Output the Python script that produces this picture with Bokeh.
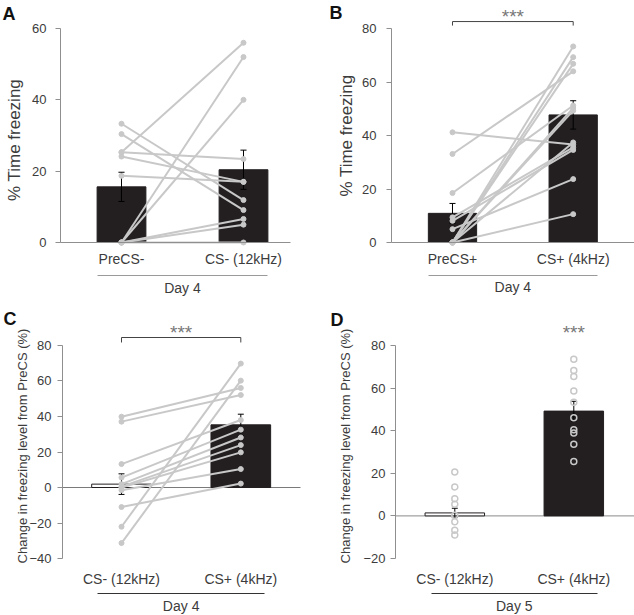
import math
from bokeh.plotting import figure
from bokeh.models import Range1d, LinearAxis, FixedTicker, ColumnDataSource
from bokeh.layouts import row, column
from bokeh.embed import file_html
from bokeh.resources import INLINE
from bokeh.core.properties import value

# ---------------- data ----------------
a_cats = ["PreCS-", "CS- (12kHz)"]
a_pre = [25.3, 25.3, 24.1, 18.7, 33.3, 30.4, 0, 0, 0, 0, 0]
a_post = [56.0, 23.4, 17.0, 17.0, 11.9, 9.1, 52.0, 40.0, 6.6, 5.0, 0]
a_mean = [15.6, 20.4]
a_sem = [4.1, 5.5]

b_cats = ["PreCS+", "CS+ (4kHz)"]
b_pre = [41.2, 33.1, 18.5, 9.4, 8.1, 5.0, 0, 0, 0, 0, 0, 0, 0]
b_post = [36.6, 64.0, 51.2, 35.6, 34.6, 23.7, 10.6, 73.3, 69.3, 66.8, 50.3, 49.3, 37.4]
b_mean = [10.9, 47.7]
b_sem = [3.7, 5.3]

c_cats = ["CS- (12kHz)", "CS+ (4kHz)"]
c_minus = [39.9, 37.1, 13.2, 5.6, 1.9, 0.5, 0.0, -1.5, -11.0, -22.1, -31.3]
c_plus = [56.1, 52.1, 38.0, 32.6, 28.2, 23.9, 19.8, 10.4, 2.2, 69.8, 60.2]
c_mean = [1.9, 35.3]
c_sem = [5.8, 6.0]

d_cats = ["CS- (12kHz)", "CS+ (4kHz)"]
d_minus = [20.6, 13.6, 8.1, 5.5, 0.3, -2.8, -6.7, -9.0]
d_plus = [73.5, 68.3, 65.5, 58.6, 53.4, 46.1, 40.5, 38.9, 33.6, 25.6]
d_mean = [1.4, 49.2]
d_sem = [2.2, 4.6]

# ---------------- style ----------------
FONT = "Liberation Sans"
TXT = "#3c3c3c"
AX = "#8f8f8f"
PT = "#c8c8c8"
BAR = "#231f20"


def panel(width, height, xr, yr, yaxis_x, x_end, ybounds, yticks,
          ylabel, ylabel_size, ylabel_xy, ytick_standoff, cat_standoff,
          cats, day, day_y, under_y, under_color, base_on, letter, letter_xy):
    p = figure(width=width, height=height, x_range=Range1d(*xr), y_range=Range1d(*yr),
               output_backend="svg", toolbar_location=None,
               x_axis_type=None, y_axis_type=None,
               min_border_left=0, min_border_right=0,
               min_border_top=0, min_border_bottom=0)
    p.outline_line_color = None
    p.background_fill_color = "white"
    p.border_fill_color = "white"

    ya = LinearAxis(bounds=ybounds, ticker=FixedTicker(ticks=yticks), fixed_location=yaxis_x)
    ya.axis_line_color = AX
    ya.major_tick_line_color = AX
    ya.major_tick_out = 5
    ya.major_tick_in = 0
    ya.minor_tick_line_color = None
    ya.major_label_text_font = FONT
    ya.major_label_text_font_size = "13px"
    ya.major_label_text_color = TXT
    ya.major_label_standoff = ytick_standoff
    p.add_layout(ya, "left")

    p.text(x=[ylabel_xy[0]], y=[ylabel_xy[1]], text=[ylabel], angle=math.pi / 2,
           text_font=value(FONT), text_font_size=ylabel_size, text_color=TXT,
           text_align="center", text_baseline="middle")

    pos = [i + 1 for i in range(len(cats))]
    xa = LinearAxis(ticker=FixedTicker(ticks=pos), bounds=(yaxis_x, x_end),
                    fixed_location=ybounds[0],
                    major_label_overrides={k: c for k, c in zip(pos, cats)})
    xa.axis_line_color = AX if base_on else None
    xa.major_tick_line_color = None
    xa.minor_tick_line_color = None
    xa.major_tick_out = 0
    xa.major_tick_in = 0
    xa.major_label_text_font = FONT
    xa.major_label_text_font_size = "14px"
    xa.major_label_text_color = TXT
    xa.major_label_standoff = cat_standoff
    p.add_layout(xa, "below")

    xb = LinearAxis(bounds=(pos[0] - 0.2, pos[-1] + 0.2), ticker=FixedTicker(ticks=[]),
                    fixed_location=under_y)
    xb.axis_line_color = under_color
    xb.major_tick_line_color = None
    xb.minor_tick_line_color = None
    xb.major_label_text_font_size = "0px"
    p.add_layout(xb, "below")

    p.text(x=[(pos[0] + pos[-1]) / 2], y=[day_y], text=[day], text_font=value(FONT),
           text_font_size="14px", text_color=TXT, text_align="center", text_baseline="middle")

    p.text(x=[letter_xy[0]], y=[letter_xy[1]], text=[letter], text_font=value(FONT),
           text_font_size="18px", text_font_style="bold", text_color="#111111",
           text_baseline="top", text_align="left")
    return p, pos


def bars(p, pos, mean, sem, fills, width):
    src = ColumnDataSource(dict(x=pos, top=mean, fill=fills,
                                lo=[m - s for m, s in zip(mean, sem)],
                                hi=[m + s for m, s in zip(mean, sem)]))
    p.vbar(x="x", top="top", bottom=0, width=width, source=src,
           fill_color="fill", line_color=BAR, line_width=1)
    p.segment(x0="x", y0="lo", x1="x", y1="hi", source=src, line_color="black", line_width=1)
    for key in ("lo", "hi"):
        cap = ColumnDataSource(dict(x0=[x - 0.025 for x in pos], x1=[x + 0.025 for x in pos],
                                    y=src.data[key]))
        p.segment(x0="x0", y0="y", x1="x1", y1="y", source=cap, line_color="black", line_width=1)


def pairs(p, pos, first, second):
    src = ColumnDataSource(dict(x0=[pos[0]] * len(first), y0=first,
                                x1=[pos[1]] * len(second), y1=second))
    p.segment(x0="x0", y0="y0", x1="x1", y1="y1", source=src, line_color=PT, line_width=2)
    p.scatter(x="x0", y="y0", source=src, size=5, color=PT)
    p.scatter(x="x1", y="y1", source=src, size=5, color=PT)


def stars(p, pos, y, bracket=None):
    mid = (pos[0] + pos[-1]) / 2
    if bracket is not None:
        y_top, y_tick = bracket
        p.line(x=[pos[0], pos[0], pos[-1], pos[-1]], y=[y_tick, y_top, y_top, y_tick],
               line_color="#444444", line_width=1)
        x = mid
    else:
        x = pos[-1]
    p.text(x=[x], y=[y], text=["***"], text_align="center", text_baseline="middle",
           text_font=value(FONT), text_font_size="19px", text_color="#777777")


def zero_line(p, x0, x1, color):
    p.segment(x0=[x0], y0=[0], x1=[x1], y1=[0], line_color=color, line_width=1)


# ---------------- Panel A ----------------
pA, posA = panel(317, 300, (0.0082, 2.6066), (-16.26, 67.85), 0.5, 2.385, (0, 60),
                 [0, 20, 40, 60], "% Time freezing", "17px", (0.119, 28.74), 9, 8,
                 a_cats, "Day 4", -12.62, -9.25, "#9a9a9a", True, "A", (0.025, 67.0))
bars(pA, posA, a_mean, a_sem, [BAR, BAR], 0.4)
pairs(pA, posA, a_pre, a_post)

# ---------------- Panel B ----------------
pB, posB = panel(317, 300, (-0.1185, 2.508), (-21.68, 90.47), 0.4946, 2.508, (0, 80),
                 [0, 20, 40, 60, 80], "% Time freezing", "17px", (0.118, 40.0), 10, 8,
                 b_cats, "Day 4", -16.82, -12.34, "#9a9a9a", True, "B", (-0.019, 89.35))
bars(pB, posB, b_mean, b_sem, [BAR, BAR], 0.4)
pairs(pB, posB, b_pre, b_post)
stars(pB, posB, 84.5, bracket=(82.6, 81.1))

# ---------------- Panel C ----------------
pC, posC = panel(317, 315, (-0.01425, 2.6429), (-72.11, 105.35), 0.5055, 2.5005, (-40, 80),
                 [-40, -20, 0, 20, 40, 60, 80],
                 "Change in freezing level from PreCS (%)", "13px", (0.1702, 23.38), 6, 12,
                 c_cats, "Day 4", -66.48, -59.72, "#333333", False, "C", (0.011, 100.28))
zero_line(pC, 0.5055, 2.5005, "#7a7a7a")
bars(pC, posC, c_mean, c_sem, ["white", BAR], 0.5)
pairs(pC, posC, c_minus, c_plus)
stars(pC, posC, 87.3, bracket=(84.5, 81.7))

# ---------------- Panel D ----------------
pD, posD = panel(317, 315, (-0.1538, 2.5101), (-46.76, 101.13), 0.5017, 2.5101, (-20, 80),
                 [-20, 0, 20, 40, 60, 80],
                 "Change in freezing level from PreCS (%)", "13px", (0.0773, 32.82), 5, 12,
                 d_cats, "Day 5", -42.07, -36.43, "#333333", False, "D", (-0.044, 96.9))
zero_line(pD, 0.5017, 2.5101, "#8a8a8a")
bars(pD, posD, d_mean, d_sem, ["white", BAR], 0.5)
pD.scatter(x=[posD[0]] * len(d_minus), y=d_minus, size=6, fill_color=None,
           line_color=PT, line_width=1.5)
pD.scatter(x=[posD[1]] * len(d_plus), y=d_plus, size=6, fill_color=None,
           line_color=PT, line_width=1.5)
stars(pD, posD, 86.1)

layout = column(row(pA, pB), row(pC, pD))
open("out.html", "w").write(file_html(layout, INLINE))
